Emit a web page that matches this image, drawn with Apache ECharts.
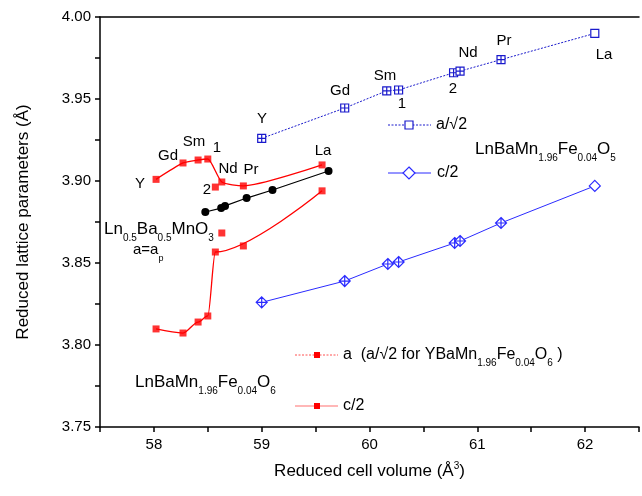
<!DOCTYPE html>
<html><head><meta charset="utf-8">
<script src="https://cdn.jsdelivr.net/npm/echarts@6/dist/echarts.min.js"></script>
<style>html,body{margin:0;padding:0;background:#fff}#c{width:642px;height:496px}</style>
</head><body><div id="c"></div>
<script>
// LnBaMn1.96Fe0.04O5 : a/sqrt2 and c/2
const o5VolA = [59.00, 59.77, 60.16, 60.27, 60.78, 60.84, 61.22, 62.09];
const o5A    = [3.926, 3.9445, 3.955, 3.9555, 3.966, 3.967, 3.974, 3.990];
const o5VolC = [59.00, 59.77, 60.17, 60.27, 60.79, 60.84, 61.22, 62.09];
const o5C    = [3.826, 3.839, 3.8494, 3.8506, 3.8622, 3.8634, 3.8744, 3.897];
// LnBaMn1.96Fe0.04O6 : a and c/2  (Y, Gd, Sm, 1, 2, Nd, Pr, La)
const o6Vol  = [58.02, 58.27, 58.41, 58.50, 58.57, 58.63, 58.83, 59.56];
const o6A    = [3.901, 3.911, 3.9128, 3.9134, 3.8963, 3.8994, 3.897, 3.9098];
const o6C    = [3.8098, 3.8073, 3.814, 3.8177, 3.8567, 3.8683, 3.8604, 3.894];
// points followed by the fitted guide curves
const o6ACurveIdx = [0, 1, 2, 3, 5, 6, 7];
const o6CCurveIdx = [0, 1, 2, 3, 4, 7];
// Ln0.5Ba0.5MnO3
const l05Vol = [58.477, 58.624, 58.66, 58.86, 59.10, 59.62];
const l05A   = [3.8811, 3.8835, 3.8848, 3.8896, 3.8945, 3.9061];

const xTicks = [58, 59, 60, 61, 62];
const yTicks = ['3.75', '3.80', '3.85', '3.90', '3.95', '4.00'];

const zip = (xs, ys) => xs.map((x, i) => [x, ys[i]]);
const pick = (xs, ys, idx) => idx.map(i => [xs[i], ys[i]]);

const BLUE = '#1a1acc';
const BLUE2 = '#2b2bff';
const RED = '#ff0000';
const FONT = 'Liberation Sans, Arial, sans-serif';

const sqCross = 'path://M0,0H10V10H0Z M5,0V10 M0,5H10';
const sqOpen = 'path://M0,0H10V10H0Z';
const diaCross = 'path://M5,0L10,5L5,10L0,5Z M5,0V10 M0,5H10';
const diaOpen = 'path://M5,0L10,5L5,10L0,5Z';

const chart = echarts.init(document.getElementById('c'));

function txt(x, y, text, opts) {
  return {
    type: 'text', x: x, y: y,
    style: Object.assign({text: text, fill: '#000', font: '15px ' + FONT, align: 'center', verticalAlign: 'middle'}, opts || {})
  };
}
function richTxt(x, y, text, size, align) {
  const sub = Math.round(size * 0.6);
  return {
    type: 'text', x: x, y: y,
    style: {
      text: text, fill: '#000', align: align || 'left', verticalAlign: 'middle',
      font: size + 'px ' + FONT,
      rich: {
        s: {fontSize: sub, fontFamily: FONT, verticalAlign: 'bottom', fill: '#000'},
        n: {fontSize: size, fontFamily: FONT, verticalAlign: 'middle', lineHeight: Math.round(size * 1.7), fill: '#000'}
      }
    }
  };
}

const graphics = [
  // blue labels
  txt(262, 119, 'Y'), txt(340, 91, 'Gd'), txt(385, 76, 'Sm'), txt(402, 104, '1'),
  txt(453, 89, '2'), txt(468, 53, 'Nd'), txt(504, 41, 'Pr'), txt(604, 55, 'La'),
  // red labels
  txt(140, 184, 'Y'), txt(168, 156, 'Gd'), txt(194, 142, 'Sm'), txt(217, 148, '1'),
  txt(207, 190, '2'), txt(228, 169, 'Nd'), txt(251, 170, 'Pr'), txt(323, 151, 'La'),
  // compound labels
  richTxt(104, 229, '{n|Ln}{s|0.5}{n|Ba}{s|0.5}{n|MnO}{s|3}', 17),
  richTxt(133, 250, '{n|a=a}{s|p}', 15),
  richTxt(475, 149, '{n|LnBaMn}{s|1.96}{n|Fe}{s|0.04}{n|O}{s|5}', 17),
  richTxt(135, 382, '{n|LnBaMn}{s|1.96}{n|Fe}{s|0.04}{n|O}{s|6}', 17),
  // legend: a/sqrt2
  {type: 'line', shape: {x1: 388, y1: 125, x2: 431, y2: 125}, style: {stroke: BLUE, lineWidth: 1, lineDash: [2, 1.5]}},
  {type: 'rect', shape: {x: 405, y: 121, width: 8, height: 8}, style: {fill: '#fff', stroke: BLUE, lineWidth: 1.2}},
  txt(436, 125, 'a/\u221A2', {align: 'left', font: '16px ' + FONT}),
  // legend: c/2 blue
  {type: 'line', shape: {x1: 388, y1: 173, x2: 431, y2: 173}, style: {stroke: BLUE2, lineWidth: 1}},
  {type: 'polygon', shape: {points: [[409, 167], [415, 173], [409, 179], [403, 173]]}, style: {fill: '#fff', stroke: BLUE2, lineWidth: 1.2}},
  txt(437, 173, 'c/2', {align: 'left', font: '16px ' + FONT}),
  // legend: red a
  {type: 'line', shape: {x1: 295, y1: 355, x2: 338, y2: 355}, style: {stroke: '#ff5050', lineWidth: 1, lineDash: [2, 1.5]}},
  {type: 'rect', shape: {x: 314, y: 352, width: 6, height: 6}, style: {fill: RED}},
  richTxt(343, 355, '{n|a  (a/\u221A2 for YBaMn}{s|1.96}{n|Fe}{s|0.04}{n|O}{s|6}{n| )}', 16),
  // legend: red c/2
  {type: 'line', shape: {x1: 295, y1: 406, x2: 338, y2: 406}, style: {stroke: '#ff7070', lineWidth: 1.2}},
  {type: 'rect', shape: {x: 314, y: 403, width: 6, height: 6}, style: {fill: RED}},
  txt(343, 406, 'c/2', {align: 'left', font: '16px ' + FONT})
];

const option = {
  backgroundColor: '#fff',
  animation: false,
  grid: {left: 100, right: 0, top: 17, bottom: 69, containLabel: false},
  xAxis: [{
    type: 'value', min: 57.5, max: 62.5, interval: 0.5,
    name: 'Reduced cell volume (\u00C5{sup|3})', nameLocation: 'middle', nameGap: 34,
    nameTextStyle: {fontSize: 17, fontFamily: FONT, color: '#000', rich: {sup: {fontSize: 10, verticalAlign: 'top', padding: [0, 0, 10, 0], fontFamily: FONT, color: '#000'}}},
    axisLine: {show: true, lineStyle: {color: '#000', width: 1.5}},
    axisTick: {show: true, inside: false, length: 5, lineStyle: {color: '#000', width: 1.5}},
    axisLabel: {fontSize: 15, fontFamily: FONT, color: '#000', margin: 10,
      formatter: v => xTicks.indexOf(Math.round(v * 2) / 2) >= 0 ? String(Math.round(v)) : ''},
    splitLine: {show: false}
  }, {
    type: 'value', position: 'top', min: 57.5, max: 62.5,
    axisLine: {show: true, onZero: false, lineStyle: {color: '#000', width: 1.5}},
    axisTick: {show: false}, axisLabel: {show: false}, splitLine: {show: false}
  }],
  yAxis: {
    type: 'value', min: 3.75, max: 4.0, interval: 0.025,
    name: 'Reduced lattice parameters (\u00C5)', nameLocation: 'middle', nameGap: 68, nameRotate: 90,
    nameTextStyle: {fontSize: 17, fontFamily: FONT, color: '#000'},
    axisLine: {show: true, lineStyle: {color: '#000', width: 1.5}},
    axisTick: {show: true, inside: false, length: 5, lineStyle: {color: '#000', width: 1.5}},
    axisLabel: {fontSize: 15, fontFamily: FONT, color: '#000', margin: 9,
      formatter: v => { const s = v.toFixed(2); return (Math.round(v * 1000) % 50 === 0) && yTicks.indexOf(s) >= 0 ? s : ''; }},
    splitLine: {show: false}
  },
  graphic: graphics,
  series: [
    {
      name: 'a/\u221A2 O5', type: 'line', data: zip(o5VolA, o5A).map((p, i) => ({value: p, symbol: i === o5A.length - 1 ? sqOpen : sqCross})),
      symbolSize: 8, lineStyle: {color: BLUE, width: 1, type: [2, 1.5]},
      itemStyle: {color: '#fff', borderColor: BLUE, borderWidth: 1.2}, z: 3
    },
    {
      name: 'c/2 O5', type: 'line', data: zip(o5VolC, o5C).map((p, i) => ({value: p, symbol: i === o5C.length - 1 ? diaOpen : diaCross})),
      symbolSize: 11, lineStyle: {color: BLUE2, width: 1},
      itemStyle: {color: '#fff', borderColor: BLUE2, borderWidth: 1.2}, z: 3
    },
    {
      name: 'a O6 curve', type: 'line', data: pick(o6Vol, o6A, o6ACurveIdx), smooth: 0.2,
      showSymbol: false, symbol: 'none', lineStyle: {color: RED, width: 1.3}, z: 2
    },
    {
      name: 'a O6', type: 'scatter', data: zip(o6Vol, o6A), symbol: 'rect', symbolSize: 7,
      itemStyle: {color: RED}, z: 4
    },
    {
      name: 'c O6 curve', type: 'line', data: pick(o6Vol, o6C, o6CCurveIdx), smooth: 0.3, smoothMonotone: 'x',
      showSymbol: false, symbol: 'none', lineStyle: {color: RED, width: 1.3}, z: 2
    },
    {
      name: 'c O6', type: 'scatter', data: zip(o6Vol, o6C), symbol: 'rect', symbolSize: 7,
      itemStyle: {color: RED}, z: 4
    },
    {
      name: 'Ln0.5Ba0.5MnO3', type: 'line', data: zip(l05Vol, l05A), symbol: 'circle', symbolSize: 8,
      lineStyle: {color: '#000', width: 1.2}, itemStyle: {color: '#000'}, z: 3
    }
  ]
};
chart.setOption(option);
</script></body></html>
